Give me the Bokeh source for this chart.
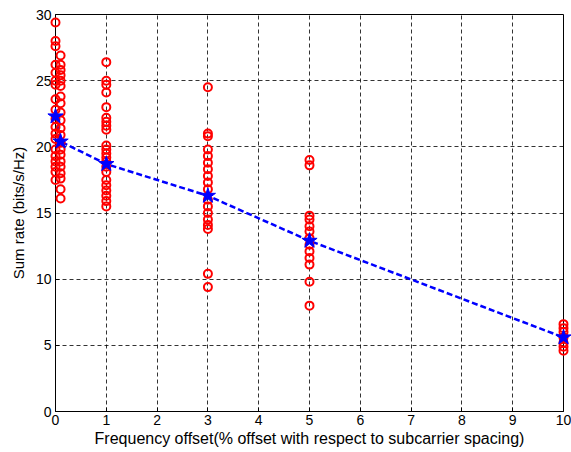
from bokeh.plotting import figure
from bokeh.models import Range1d, FixedTicker
from bokeh.embed import file_html
from bokeh.resources import INLINE

# Scatter samples per frequency offset (% of subcarrier spacing)
x0 = [29.4, 28.0, 27.6, 26.2, 25.6, 25.0, 24.7, 23.6, 22.8, 22.1, 21.5, 21.0, 20.6, 19.8, 19.3, 18.9, 18.5, 18.1, 17.5]
x01 = [26.9, 26.2, 25.8, 25.4, 25.0, 24.6, 23.8, 23.3, 22.6, 22.0, 21.4, 20.9, 20.3, 19.8, 19.4, 18.9, 18.5, 18.0, 17.6, 16.8, 16.1]
x1 = [26.4, 25.0, 24.7, 24.1, 23.0, 22.2, 21.9, 21.6, 21.3, 20.1, 19.8, 19.5, 19.2, 18.9, 18.5, 18.1, 17.5, 17.1, 16.7, 16.3, 15.9, 15.5]
x3 = [24.5, 21.0, 20.8, 19.8, 19.3, 18.8, 18.3, 17.8, 17.3, 16.8, 16.0, 15.5, 15.0, 14.5, 14.1, 13.8, 10.4, 9.4]
x5 = [19.0, 18.6, 14.8, 14.5, 14.0, 13.6, 13.1, 12.6, 12.1, 11.6, 11.1, 9.8, 8.0]
x10 = [6.6, 6.3, 6.0, 5.6, 5.2, 4.9, 4.6]

offsets = [0, 0.1, 1, 3, 5, 10]
samples = [x0, x01, x1, x3, x5, x10]
mean_rate = [22.3, 20.4, 18.7, 16.3, 12.9, 5.6]

x_ticks = [0, 1, 2, 3, 4, 5, 6, 7, 8, 9, 10]
y_ticks = [0, 5, 10, 15, 20, 25, 30]

FONT = "Liberation Sans"

p = figure(width=571, height=450, output_backend="svg", toolbar_location=None,
           x_range=Range1d(0, 10), y_range=Range1d(0, 30),
           min_border_left=55, min_border_right=8, min_border_top=14, min_border_bottom=39)
p.background_fill_color = "white"
p.border_fill_color = "white"
p.outline_line_color = "black"
p.outline_line_width = 1

sx, sy = [], []
for o, s in zip(offsets, samples):
    for v in s:
        sx.append(o)
        sy.append(v)

p.scatter(sx, sy, marker="circle", size=8, fill_color=None, line_color="red",
          line_width=2, level="overlay")
p.line(offsets, mean_rate, line_color="blue", line_width=2.5, line_dash="6 3")
p.scatter(offsets, mean_rate, marker="star", size=16, fill_color="blue",
          line_color="blue", level="overlay")

for ax in (p.xaxis[0], p.yaxis[0]):
    ax.major_tick_in = 4
    ax.major_tick_out = 0
    ax.minor_tick_in = 0
    ax.minor_tick_out = 0
    ax.axis_line_color = "black"
    ax.major_tick_line_color = "black"
    ax.major_label_text_font = FONT
    ax.major_label_text_font_size = "14px"
    ax.major_label_text_color = "black"
    ax.axis_label_text_font = FONT
    ax.axis_label_text_font_style = "normal"
    ax.axis_label_text_color = "black"

p.xaxis.axis_label_text_font_size = "16px"
p.yaxis.axis_label_text_font_size = "15px"
p.xaxis.ticker = FixedTicker(ticks=x_ticks)
p.yaxis.ticker = FixedTicker(ticks=y_ticks)
p.xaxis.axis_label = "Frequency offset(% offset with respect to subcarrier spacing)"
p.yaxis.axis_label = "Sum rate (bits/s/Hz)"
p.xaxis.major_label_standoff = 3
p.xaxis.axis_label_standoff = 2
p.yaxis.major_label_standoff = 4
p.yaxis.axis_label_standoff = 6

for g in (p.xgrid[0], p.ygrid[0]):
    g.grid_line_color = "black"
    g.grid_line_dash = "4 3"
    g.grid_line_width = 1
    g.grid_line_alpha = 0.8

open("out.html", "w").write(file_html(p, INLINE))
